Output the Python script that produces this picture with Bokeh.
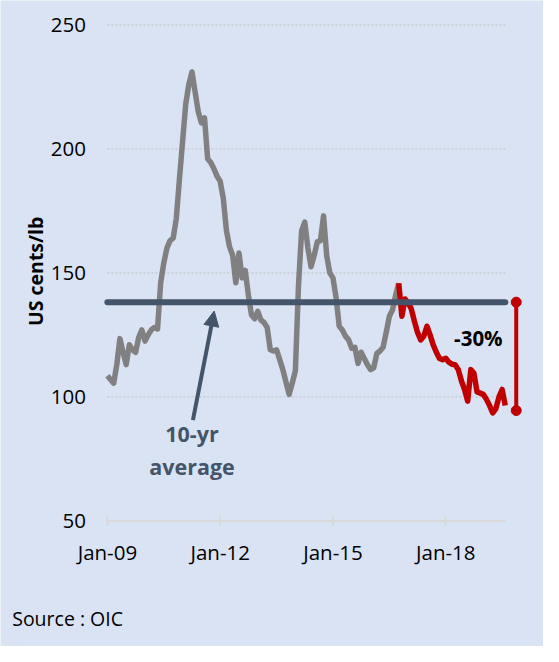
import math
import pandas as pd
from bokeh.plotting import figure
from bokeh.models import Label, Arrow, NormalHead, ColumnDataSource
from bokeh.core.properties import value
from bokeh.embed import file_html
from bokeh.resources import INLINE

# ---- data (ICO composite indicator price, US cents/lb, monthly from Jan-09) ----
month_index = list(range(128))
month_labels = pd.date_range("2009-01-01", periods=128, freq="MS").strftime("%b-%y").tolist()

price_2009 = [108.5, 107, 105.5, 113, 123.5, 118, 113, 121, 119, 118, 124, 127]
price_2010 = [122.5, 125, 127, 128, 127.4, 146, 154, 160, 163, 164, 172, 188]
price_2011 = [203, 218, 226, 231, 223, 215, 210.5, 212.5, 196, 194.5, 192, 189]
price_2012 = [187, 180, 167, 160.5, 157, 146, 158, 148, 151, 141, 133, 131.5]
price_2013 = [134.5, 131, 130, 128, 119, 118.5, 119, 115, 111, 106, 101, 105.5]
price_2014 = [110.5, 145, 167, 170.5, 160, 152.5, 157, 162.5, 163, 173, 157, 150]
price_2015 = [148, 140, 128.5, 127, 124.5, 123, 119.6, 120, 113.5, 118, 115.5, 113]
price_2016 = [111, 111.7, 117.5, 118.5, 120, 126, 132.5, 135, 141, 145.8, 132.5, 139.5]
price_2017 = [138, 135.5, 130.5, 126, 123, 124.5, 128.5, 125, 121, 118, 115.5, 115]
price_2018 = [115.6, 114, 113.2, 113, 111, 106.5, 103, 98.3, 111, 109.5, 102, 101.5]
price_2019 = [101, 99, 96.5, 93.5, 95.3, 100, 103, 96.5]

prices = (price_2009 + price_2010 + price_2011 + price_2012 + price_2013 + price_2014
          + price_2015 + price_2016 + price_2017 + price_2018 + price_2019)

red_start = 93          # Oct-16: start of the recent decline (red)
avg_10yr = 138.2        # 10-year average
drop_low = 94.5         # latest low used for the -30% bracket
drop_label = "-30%"
source_note = "Source : OIC"
y_title = "US cents/lb"

x_tick_months = [0, 36, 72, 108]
x_tick_labels = ["Jan-09", "Jan-12", "Jan-15", "Jan-18"]
y_ticks = [50, 100, 150, 200, 250]
y_tick_labels = ["50", "100", "150", "200", "250"]
grid_levels = [100, 150, 200, 250]
y_base = 50

# ---- layout (pixels in the 543x646 canvas) ----
W, H = 543, 646
PX_PER_MONTH = 3.1328
PX_PER_UNIT = 2.48
X0_PX = 106.9      # pixel of month 0
Y250_PX = 24.4     # pixel of value 250

def mx(px):   # pixel x -> month units
    return (px - X0_PX) / PX_PER_MONTH

def vy(py):   # pixel y (from top) -> value units
    return 250 - (py - Y250_PX) / PX_PER_UNIT

x_range = (mx(0), mx(W))
y_range = (vy(H), vy(0))

# annotation placement (data units)
bracket_x = 130.5
arrow_start = (27.3, 90.6)
arrow_end = (34.1, 134.6)
note_x = 27.0
note_line1_y = 85.4
note_line2_y = 72.0
pct_xy = (118.4, 123.6)
ytick_label_x = mx(85.5)
ytitle_xy = (mx(35), vy(270.8))
xtick_label_y = vy(551)
source_xy = (mx(11.7), vy(617.7))
tick_half = 5 / PX_PER_UNIT

BG = "#DAE3F3"
SLATE = "#44546A"
RED = "#C00000"
GRAY = "#808080"
AXIS = "#D9D9D9"
FONT = "Open Sans"

p = figure(width=W, height=H, output_backend="svg", toolbar_location=None,
           x_range=x_range, y_range=y_range, x_axis_type=None, y_axis_type=None,
           min_border=0, min_border_left=0, min_border_right=0,
           min_border_top=0, min_border_bottom=0)
p.background_fill_color = BG
p.border_fill_color = BG
p.outline_line_color = None
p.grid.visible = False

# dotted gridlines limited to the data span
p.segment(x0=[month_index[0]] * len(grid_levels), x1=[month_index[-1]] * len(grid_levels),
          y0=grid_levels, y1=grid_levels, line_color="#BFBFBF", line_width=1, line_dash="2 2")

# x axis baseline and tick marks
p.segment(x0=[month_index[0]], x1=[month_index[-1]], y0=[y_base], y1=[y_base],
          line_color=AXIS, line_width=2)
p.segment(x0=x_tick_months, x1=x_tick_months,
          y0=[y_base - tick_half] * len(x_tick_months), y1=[y_base + tick_half] * len(x_tick_months),
          line_color=AXIS, line_width=2)

# tick labels
p.text(x=x_tick_months, y=[xtick_label_y] * len(x_tick_months), text=x_tick_labels,
       text_font=value(FONT), text_font_size="20.5px", text_color="black",
       text_align="center", text_baseline="middle")
p.text(x=[ytick_label_x] * len(y_ticks), y=y_ticks, text=y_tick_labels,
       text_font=value(FONT), text_font_size="20.5px", text_color="black",
       text_align="right", text_baseline="middle")
p.text(x=[ytitle_xy[0]], y=[ytitle_xy[1]], text=[y_title], angle=math.pi / 2,
       text_font=value(FONT), text_font_size="19.5px", text_font_style="bold", text_color="black",
       text_align="center", text_baseline="middle")

# price series
src_gray = ColumnDataSource(dict(x=month_index[:red_start + 1], y=prices[:red_start + 1]))
src_red = ColumnDataSource(dict(x=month_index[red_start:], y=prices[red_start:]))
p.line("x", "y", source=src_gray, line_color=GRAY, line_width=5.5, line_join="round")
p.line("x", "y", source=src_red, line_color=RED, line_width=5.5, line_join="round")

# 10-yr average line
p.line([month_index[0], month_index[-1]], [avg_10yr, avg_10yr], line_color=SLATE,
       line_width=6, line_cap="round")

# -30% bracket
p.segment(x0=[bracket_x], x1=[bracket_x], y0=[avg_10yr], y1=[drop_low], line_color=RED, line_width=4)
p.scatter([bracket_x, bracket_x], [avg_10yr, drop_low], size=10, color=RED)

p.add_layout(Label(x=pct_xy[0], y=pct_xy[1], text=drop_label, text_font=FONT,
                   text_font_size="20.5px", text_font_style="bold", text_color="black",
                   text_align="center", text_baseline="middle"))

# 10-yr average annotation
p.add_layout(Arrow(x_start=arrow_start[0], y_start=arrow_start[1], x_end=arrow_end[0], y_end=arrow_end[1],
                   line_color=SLATE, line_width=4,
                   end=NormalHead(size=15, fill_color=SLATE, line_color=SLATE)))
p.add_layout(Label(x=note_x, y=note_line1_y, text="10-yr", text_font=FONT,
                   text_font_size="21.5px", text_font_style="bold", text_color=SLATE,
                   text_align="center", text_baseline="middle"))
p.add_layout(Label(x=note_x, y=note_line2_y, text="average", text_font=FONT,
                   text_font_size="21.5px", text_font_style="bold", text_color=SLATE,
                   text_align="center", text_baseline="middle"))

# source note
p.add_layout(Label(x=source_xy[0], y=source_xy[1], text=source_note, text_font=FONT,
                   text_font_size="19.5px", text_color="black",
                   text_align="left", text_baseline="middle"))

open("out.html", "w").write(file_html(p, INLINE))
